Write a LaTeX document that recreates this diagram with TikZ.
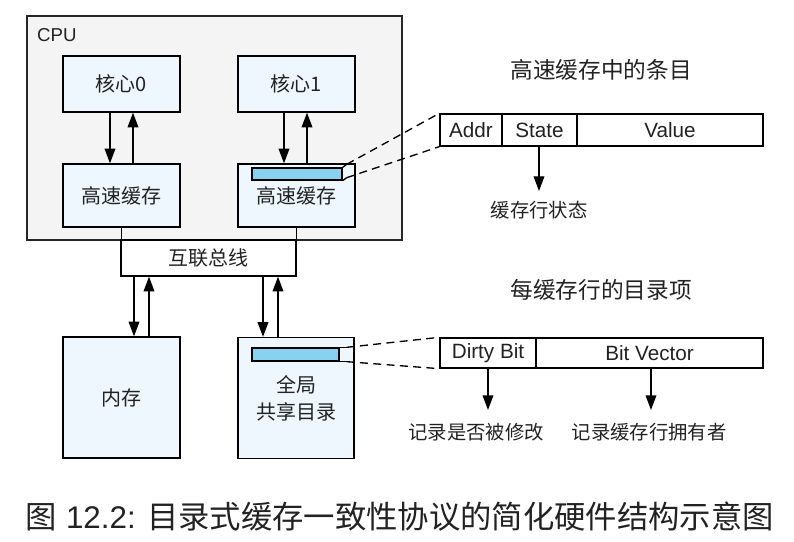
\documentclass[tikz,border=0pt]{standalone}
\usepackage{fontspec}
\setmainfont{Liberation Sans}
\newfontfamily\cjk{Noto Sans CJK SC}
\usetikzlibrary{arrows.meta,calc}

\definecolor{cpugray}{HTML}{F4F4F4}
\definecolor{boxblue}{HTML}{EEF6FE}
\definecolor{barblue}{HTML}{88D2F0}
\definecolor{ink}{HTML}{222222}

\begin{document}
\begin{tikzpicture}[x=0.75pt,y=-0.75pt,
  line width=1pt,
  every node/.style={text=ink},
  size/.style args={#1x#2}{minimum width=#1*0.75pt, minimum height=#2*0.75pt},
  frame/.style={draw=black!85, fill=cpugray, inner sep=0pt},
  box/.style={draw=black, fill=boxblue, inner sep=0pt,
    font=\cjk\fontsize{15pt}{20pt}\selectfont},
  bar/.style={draw=black, fill=barblue, inner sep=0pt},
  cell/.style={draw=black, fill=white, inner sep=0pt,
    font=\fontsize{15.5pt}{18pt}\selectfont},
  cn/.style={font=\cjk\fontsize{14.5pt}{18pt}\selectfont},
  heading/.style={font=\cjk\fontsize{17pt}{20pt}\selectfont},
  arr/.style={-{Triangle[length=11pt,width=8pt]}},
  link/.style={dashed, dash pattern=on 6pt off 4pt}]

\useasboundingbox (0,0) rectangle (794,542);

% CPU package with two cores and their private caches
\node[frame, size=375x224] (cpu) at (214.5,128) {};
\node[anchor=west, font=\fontsize{14pt}{16pt}\selectfont] (cpulbl) at (32,35) {CPU};

\node[box, size=117x56] (core0) at (121.5,84) {核心0};
\node[box, size=117x56] (core1) at (296.5,84) {核心1};
\node[box, size=117x63] (cache0) at (121.5,195.5) {高速缓存};
\node[box, size=117x63] (cache1) at (296.5,195.5) {高速缓存};
\node[bar, size=90x12] (line1) at (297,174) {};

% interconnect
\node[box, fill=white, size=175x36] (bus) at (208.5,258) {互联总线};
\draw (cache0.south) -- (cache0.south |- bus.north);
\draw (cache1.south) -- (cache1.south |- bus.north);

% memory and directory
\node[box, size=117x121] (mem) at (121.5,397.5) {内存};
\node[box, size=116x121, align=center] (dir) at (296,398) {全局\\共享目录};
\node[bar, size=87x13] (line2) at (295.5,354.5) {};

% core <-> cache
\draw[arr] ($(core0.south)+(-11.5,0)$) -- ($(cache0.north)+(-11.5,0)$);
\draw[arr] ($(cache0.north)+(11.5,0)$) -- ($(core0.south)+(11.5,0)$);
\draw[arr] ($(core1.south)+(-12.5,0)$) -- ($(cache1.north)+(-12.5,0)$);
\draw[arr] ($(cache1.north)+(10.5,0)$) -- ($(core1.south)+(10.5,0)$);

% bus <-> memory / directory
\coordinate (m1) at ($(mem.north)+(12.5,0)$);
\coordinate (m2) at ($(mem.north)+(27.5,0)$);
\coordinate (d1) at ($(dir.north)+(-33,0)$);
\coordinate (d2) at ($(dir.north)+(-18,0)$);
\draw[arr] (m1 |- bus.south) -- (m1);
\draw[arr] (m2) -- (m2 |- bus.south);
\draw[arr] (d1 |- bus.south) -- (d1);
\draw[arr] (d2) -- (d2 |- bus.south);

% cache entry layout
\node[heading] (title1) at (601,70) {高速缓存中的条目};
\node[cell, size=62x32] (addr) at (471,130) {Addr};
\node[cell, size=75x32] (state) at (539.5,130) {State};
\node[cell, size=186x32] (value) at (670,130) {Value};
\node[cn, anchor=north, inner ysep=7pt] (statelbl) at (539,191) {缓存行状态};
\draw[arr] (state.south -| statelbl.north) -- (statelbl.north);

\coordinate (s1) at ($(line1.north east)+(4,-3)$);
\coordinate (s2) at ($(line1.south east)+(4,-3)$);
\draw (line1.north east) -- (s1);
\draw (line1.south east) -- (s2);
\draw[link] (s1) -- (addr.north west);
\draw[link] (s2) -- (addr.south west);

% directory entry layout
\node[heading] (title2) at (601,290) {每缓存行的目录项};
\node[cell, size=96x30] (dirty) at (488,353) {Dirty Bit};
\node[cell, size=227x30] (vec) at (649.5,353) {Bit Vector};
\node[cn, anchor=north, inner ysep=9.5pt] (dirtylbl) at (476,410) {记录是否被修改};
\node[cn, anchor=north, inner ysep=9.5pt] (veclbl) at (649,410) {记录缓存行拥有者};
\draw[arr] (dirty.south) -- (dirty.south |- dirtylbl.north);
\draw[arr] ($(vec.south)+(1.5,0)$) -- ($(vec.south |- veclbl.north)+(1.5,0)$);

\coordinate (t1) at ($(line2.north east)+(7,0)$);
\coordinate (t2) at ($(line2.south east)+(7,0)$);
\draw (line2.north east) -- (t1);
\draw (line2.south east) -- (t2);
\draw[link] (t1) -- (dirty.north west);
\draw[link] (t2) -- (dirty.south west);

% caption
\node[font=\fontsize{23.5pt}{27pt}\selectfont] (caption) at (400,517)
  {{\cjk 图} 12.2: {\cjk 目录式缓存一致性协议的简化硬件结构示意图}};
\end{tikzpicture}
\end{document}
